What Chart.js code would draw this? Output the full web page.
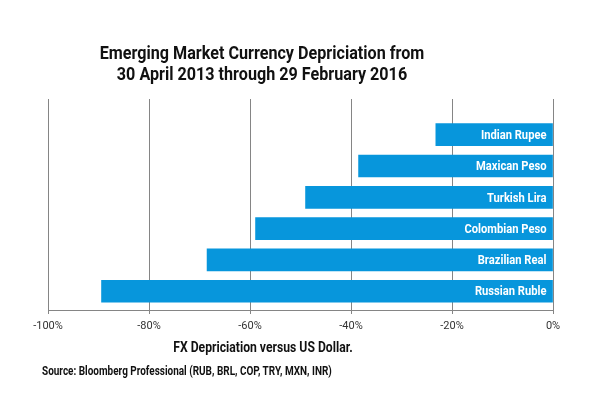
<!DOCTYPE html>
<html>
<head>
<meta charset="utf-8">
<script src="https://cdn.jsdelivr.net/npm/chart.js@4/dist/chart.umd.min.js"></script>
<style>
  body { margin: 0; background: #fff; }
  #wrap { position: relative; width: 600px; height: 417px; font-family: "Roboto", sans-serif; }
  #chart { position: absolute; left: 0; top: 0; }
  .txt { position: absolute; font-weight: bold; color: #111; white-space: nowrap; }
  #title { left: 0; width: 524px; top: 42px; text-align: center; font-size: 19px; line-height: 21px; transform: scaleX(0.85); }
  #xtitle { left: 0; width: 526px; top: 339px; text-align: center; font-size: 14px; transform: scaleX(0.87); }
  #source { left: 42px; top: 364px; font-size: 12px; transform: scaleX(0.83); transform-origin: left center; }
</style>
</head>
<body>
<div id="wrap">
  <canvas id="chart" width="600" height="417"></canvas>
  <div class="txt" id="title">Emerging Market Currency Depriciation from<br>30 April 2013 through 29 February 2016</div>
  <div class="txt" id="xtitle">FX Depriciation versus US Dollar.</div>
  <div class="txt" id="source">Source: Bloomberg Professional (RUB, BRL, COP, TRY, MXN, INR)</div>
</div>
<script>
// Dữ liệu
const currencies = ['Indian Rupee', 'Maxican Peso', 'Turkish Lira', 'Colombian Peso', 'Brazilian Real', 'Russian Ruble'];
const depreciation = [-23.2, -38.5, -49.0, -58.9, -68.5, -89.4];
const xTicks = [-100, -80, -60, -40, -20, 0];

const fontFamily = '"Roboto", sans-serif';

// Ghi tên tiền tệ bên trong thanh, sát mốc 0%
const barLabels = {
    id: 'barLabels',
    afterDatasetsDraw(chart) {
        const c = chart.ctx;
        const meta = chart.getDatasetMeta(0);
        c.save();
        c.fillStyle = '#fff';
        c.font = 'bold 13px ' + fontFamily;
        c.textAlign = 'right';
        c.textBaseline = 'middle';
        meta.data.forEach((bar, i) => {
            c.save();
            c.translate(bar.base - 6, bar.y + 1);
            c.scale(0.86, 1);
            c.fillText(currencies[i], 0, 0);
            c.restore();
        });
        c.restore();
    }
};

const ctx = document.getElementById('chart').getContext('2d');
new Chart(ctx, {
    type: 'bar',
    data: {
        datasets: [{
            data: depreciation.map((v, i) => ({ x: v, y: i })),
            backgroundColor: '#0796dc',
            borderWidth: 0,
            barThickness: 22
        }]
    },
    options: {
        responsive: false,
        animation: false,
        indexAxis: 'y',
        layout: { padding: { left: 48, right: 47, top: 99, bottom: 77 } },
        plugins: {
            legend: { display: false },
            tooltip: { enabled: false }
        },
        scales: {
            x: {
                type: 'linear',
                min: -100,
                max: 0,
                afterBuildTicks: s => { s.ticks = xTicks.map(v => ({ value: v })); },
                afterFit: s => { s.height = 30; },
                grid: { color: '#858585', lineWidth: 1, tickLength: 4 },
                border: { display: true, color: '#858585' },
                ticks: {
                    padding: 6,
                    color: '#333',
                    font: { family: fontFamily, size: 11 },
                    callback: v => v + '%'
                }
            },
            y: {
                type: 'linear',
                display: false,
                offset: false,
                reverse: true,
                min: -1.14,
                max: 5.6
            }
        }
    },
    plugins: [barLabels]
});
</script>
</body>
</html>
